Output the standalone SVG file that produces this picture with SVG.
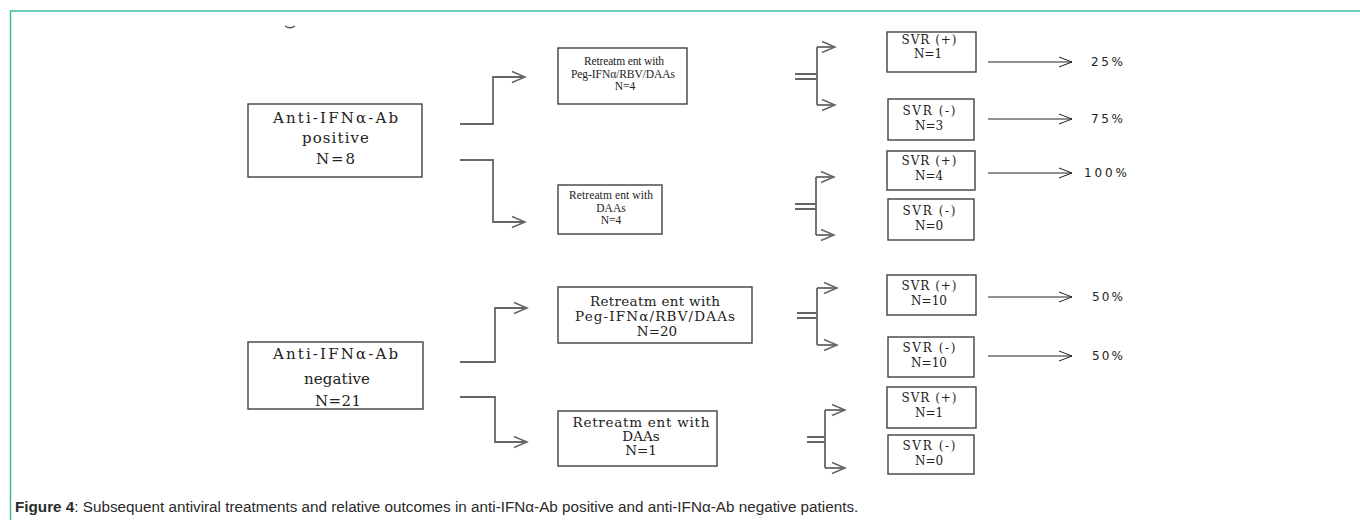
<svg xmlns="http://www.w3.org/2000/svg" width="1360" height="520" viewBox="0 0 1360 520">
<defs>
<style>
.box{fill:#fff;stroke:#404040;stroke-width:1.4}
.t{font-family:"DejaVu Serif","Liberation Serif",serif;fill:#222;text-anchor:middle}
.ts{font-family:"Liberation Serif","Times New Roman",serif;fill:#222;text-anchor:middle;font-size:11.5px}
.big{font-size:15px}
.mid{font-size:13.5px}
.svr{font-size:12px}
.pct{font-family:"DejaVu Sans","Liberation Sans",sans-serif;font-size:12px;fill:#222}
.con{fill:none;stroke:#666;stroke-width:1.8}
.arr{fill:none;stroke:#222;stroke-width:1}
.cap{font-family:"Liberation Sans",Arial,sans-serif;font-size:15.25px;fill:#2a2a2a}
</style>
<marker id="ah" markerUnits="userSpaceOnUse" markerWidth="16" markerHeight="14" refX="14" refY="7" orient="auto">
<path d="M1,1.5 L14,7 L1,12.5" fill="none" stroke="#666" stroke-width="1.5"/>
</marker>
<marker id="ahk" markerUnits="userSpaceOnUse" markerWidth="16" markerHeight="14" refX="14" refY="7" orient="auto">
<path d="M1,2 L14,7 L1,12" fill="none" stroke="#222" stroke-width="1"/>
</marker>
</defs>
<rect width="1360" height="520" fill="#fff"/>
<g id="frame">
<path d="M10.5,520 V11 H1360" fill="none" stroke="#3dbba4" stroke-width="1.5"/>
<path d="M285,26 Q290,29.5 295,26" fill="none" stroke="#555" stroke-width="1.3"/>
</g>

<g id="connectors">
<path class="con" d="M460,124 H493 V77 H525" marker-end="url(#ah)"/>
<path class="con" d="M460,160 H493 V222 H525" marker-end="url(#ah)"/>
<path class="con" d="M460,362 H495 V308 H527" marker-end="url(#ah)"/>
<path class="con" d="M460,397 H495 V442 H527" marker-end="url(#ah)"/>
<path class="con" d="M795,74 H817 M795,79 H817 M817,47 V105"/>
<path class="con" d="M817,47 H835" marker-end="url(#ah)"/>
<path class="con" d="M817,105 H835" marker-end="url(#ah)"/>
<path class="con" d="M795,204 H816 M795,209 H816 M816,177 V235"/>
<path class="con" d="M816,177 H834" marker-end="url(#ah)"/>
<path class="con" d="M816,235 H834" marker-end="url(#ah)"/>
<path class="con" d="M797,313 H817 M797,318 H817 M817,288 V345"/>
<path class="con" d="M817,288 H837" marker-end="url(#ah)"/>
<path class="con" d="M817,345 H837" marker-end="url(#ah)"/>
<path class="con" d="M807,437 H825 M807,442 H825 M825,410 V468"/>
<path class="con" d="M825,410 H845" marker-end="url(#ah)"/>
<path class="con" d="M825,468 H845" marker-end="url(#ah)"/>
<path class="arr" d="M988,62 H1072" marker-end="url(#ahk)"/>
<path class="arr" d="M988,119 H1072" marker-end="url(#ahk)"/>
<path class="arr" d="M988,173 H1072" marker-end="url(#ahk)"/>
<path class="arr" d="M988,297 H1072" marker-end="url(#ahk)"/>
<path class="arr" d="M988,356 H1072" marker-end="url(#ahk)"/>
</g>

<g id="pos">
<rect class="box" x="248" y="104" width="174" height="73"/>
<text class="t big" x="335.5" y="122.5" textLength="125" lengthAdjust="spacing">Anti-IFNα-Ab</text>
<text class="t big" x="335.5" y="142.5" textLength="67" lengthAdjust="spacing">positive</text>
<text class="t big" x="335.5" y="164" textLength="39" lengthAdjust="spacing">N=8</text>
</g>
<g id="neg">
<rect class="box" x="248" y="342" width="175" height="67"/>
<text class="t big" x="335.5" y="359" textLength="125" lengthAdjust="spacing">Anti-IFNα-Ab</text>
<text class="t big" x="337" y="384" textLength="66" lengthAdjust="spacing">negative</text>
<text class="t big" x="338" y="406" textLength="46" lengthAdjust="spacing">N=21</text>
</g>

<g id="pos-peg">
<rect class="box" x="558" y="48" width="129" height="56"/>
<text class="ts" x="624" y="64.5" textLength="80" lengthAdjust="spacing">Retreatm ent with</text>
<text class="ts" x="623" y="77.5" textLength="104" lengthAdjust="spacing">Peg-IFNα/RBV/DAAs</text>
<text class="ts" x="625" y="89.5">N=4</text>
</g>
<g id="pos-daa">
<rect class="box" x="558" y="185" width="104" height="49"/>
<text class="ts" x="611" y="199" textLength="84" lengthAdjust="spacing">Retreatm ent with</text>
<text class="ts" x="611" y="212">DAAs</text>
<text class="ts" x="611" y="224">N=4</text>
</g>
<g id="neg-peg">
<rect class="box" x="558" y="287" width="194" height="56"/>
<text class="t mid" x="655" y="306" textLength="130" lengthAdjust="spacing">Retreatm ent with</text>
<text class="t mid" x="655" y="321" textLength="160" lengthAdjust="spacing">Peg-IFNα/RBV/DAAs</text>
<text class="t mid" x="657" y="336">N=20</text>
</g>
<g id="neg-daa">
<rect class="box" x="558" y="411" width="159" height="55"/>
<text class="t mid" x="641" y="427" textLength="137" lengthAdjust="spacing">Retreatm ent with</text>
<text class="t mid" x="641" y="441">DAAs</text>
<text class="t mid" x="641" y="455">N=1</text>
</g>

<g id="svr1">
<rect class="box" x="887" y="32" width="89" height="40"/>
<text class="t svr" x="929" y="44" textLength="55" lengthAdjust="spacing">SVR (+)</text>
<text class="t svr" x="928" y="58">N=1</text>
</g>
<g id="svr2">
<rect class="box" x="888" y="99" width="86" height="41"/>
<text class="t svr" x="929" y="115" textLength="53" lengthAdjust="spacing">SVR (-)</text>
<text class="t svr" x="929" y="130">N=3</text>
</g>
<g id="svr3">
<rect class="box" x="887" y="151" width="88" height="39"/>
<text class="t svr" x="929" y="165" textLength="55" lengthAdjust="spacing">SVR (+)</text>
<text class="t svr" x="929" y="180">N=4</text>
</g>
<g id="svr4">
<rect class="box" x="888" y="199" width="86" height="41"/>
<text class="t svr" x="929" y="215" textLength="53" lengthAdjust="spacing">SVR (-)</text>
<text class="t svr" x="929" y="230">N=0</text>
</g>
<g id="svr5">
<rect class="box" x="887" y="275" width="89" height="40"/>
<text class="t svr" x="929" y="290" textLength="55" lengthAdjust="spacing">SVR (+)</text>
<text class="t svr" x="929" y="305">N=10</text>
</g>
<g id="svr6">
<rect class="box" x="888" y="337" width="86" height="40"/>
<text class="t svr" x="929" y="352" textLength="53" lengthAdjust="spacing">SVR (-)</text>
<text class="t svr" x="929" y="367">N=10</text>
</g>
<g id="svr7">
<rect class="box" x="887" y="387" width="89" height="41"/>
<text class="t svr" x="929" y="402" textLength="55" lengthAdjust="spacing">SVR (+)</text>
<text class="t svr" x="929" y="417">N=1</text>
</g>
<g id="svr8">
<rect class="box" x="888" y="435" width="86" height="39"/>
<text class="t svr" x="929" y="450" textLength="53" lengthAdjust="spacing">SVR (-)</text>
<text class="t svr" x="929" y="465">N=0</text>
</g>

<g id="pct">
<text class="pct" x="1091" y="66" textLength="32" lengthAdjust="spacing">25%</text>
<text class="pct" x="1091" y="123" textLength="32" lengthAdjust="spacing">75%</text>
<text class="pct" x="1084" y="177" textLength="43" lengthAdjust="spacing">100%</text>
<text class="pct" x="1092" y="301" textLength="31" lengthAdjust="spacing">50%</text>
<text class="pct" x="1092" y="360" textLength="31" lengthAdjust="spacing">50%</text>
</g>

<g id="caption">
<text class="cap" x="15" y="512"><tspan font-weight="bold">Figure 4</tspan>: Subsequent antiviral treatments and relative outcomes in anti-IFNα-Ab positive and anti-IFNα-Ab negative patients.</text>
</g>
</svg>
